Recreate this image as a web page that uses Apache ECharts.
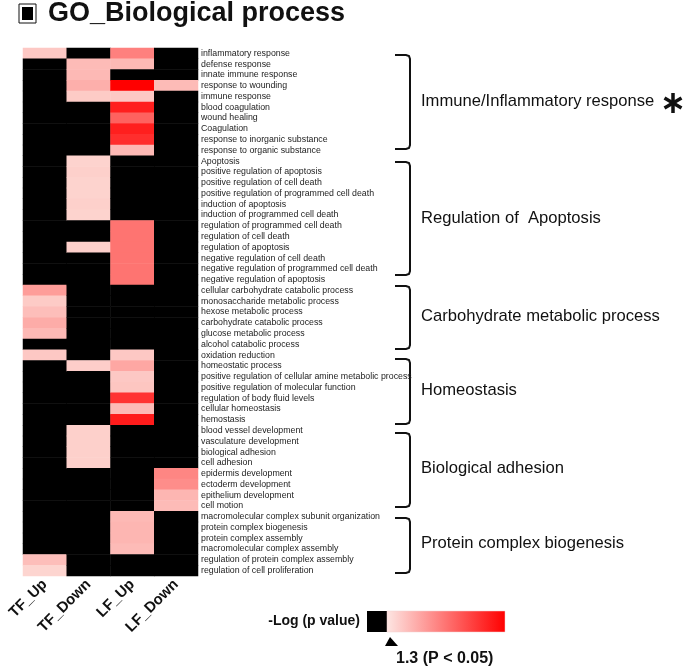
<!DOCTYPE html>
<html><head><meta charset="utf-8">
<script src="https://cdn.jsdelivr.net/npm/echarts@6/dist/echarts.min.js"></script>
<style>html,body{margin:0;padding:0;background:#fff}#c{width:685px;height:671px}</style>
</head><body><div id="c"></div>
<script>
const categories = ['TF_Up','TF_Down','LF_Up','LF_Down'];
const terms = [
'inflammatory response','defense response','innate immune response','response to wounding','immune response',
'blood coagulation','wound healing','Coagulation','response to inorganic substance','response to organic substance',
'Apoptosis','positive regulation of apoptosis','positive regulation of cell death','positive regulation of programmed cell death',
'induction of apoptosis','induction of programmed cell death','regulation of programmed cell death','regulation of cell death',
'regulation of apoptosis','negative regulation of cell death','negative regulation of programmed cell death','negative regulation of apoptosis',
'cellular carbohydrate catabolic process','monosaccharide metabolic process','hexose metabolic process','carbohydrate catabolic process',
'glucose metabolic process','alcohol catabolic process','oxidation reduction','homeostatic process',
'positive regulation of cellular amine metabolic process','positive regulation of molecular function','regulation of body fluid levels',
'cellular homeostasis','hemostasis','blood vessel development','vasculature development','biological adhesion','cell adhesion',
'epidermis development','ectoderm development','epithelium development','cell motion','macromolecular complex subunit organization',
'protein complex biogenesis','protein complex assembly','macromolecular complex assembly','regulation of protein complex assembly',
'regulation of cell proliferation'
];
// -log10(p) values; 0 = not significant (black)
const tfUp = [2.2,0,0,0,0, 0,0,0,0,0, 0,0,0,0,0,0,0,0,0,0,0,0, 3.9,2.1,2.6,3.3,2.8,0, 2.2,0,0,0,0,0,0, 0,0,0,0,0,0,0,0, 0,0,0,0,2.6,1.7];
const tfDown = [0,2.7,2.8,3.2,2.1, 0,0,0,0,0, 1.8,1.9,1.8,1.8,1.9,1.8,0,0,1.9,0,0,0, 0,0,0,0,0,0, 0,2.0,0,0,0,0,0, 1.9,1.9,1.9,1.9,0,0,0,0, 0,0,0,0,0,0];
const lfUp = [5.0,2.8,0,10,2.2, 8.8,6.2,8.8,8.2,2.8, 0,0,0,0,0,0,5.5,5.5,5.5,5.5,5.5,5.5, 0,0,0,0,0,0, 2.2,3.5,2.2,2.3,8.0,2.7,8.9, 0,0,0,0,0,0,0,0, 2.8,2.9,2.9,2.7,0,0];
const lfDown = [0,0,0,2.7,0, 0,0,0,0,0, 0,0,0,0,0,0,0,0,0,0,0,0, 0,0,0,0,0,0, 0,0,0,0,0,0,0, 0,0,0,0,4.8,4.5,2.9,2.7, 0,0,0,0,0,0];
const groups = ['Immune/Inflammatory response','Regulation of  Apoptosis','Carbohydrate metabolic process','Homeostasis','Biological adhesion','Protein complex biogenesis'];
const legendTitle = '-Log (p value)';
const legendThreshold = '1.3 (P < 0.05)';

const cols = [tfUp, tfDown, lfUp, lfDown];
const data = [];
cols.forEach((arr, ci) => arr.forEach((v, ri) => data.push([ci, ri, v])));

// bracket geometry (annotation)
const brackets = [[55,149,103],[162,275,220],[286,349,318],[359,424,392],[433,507,470],[518,573,545]];
const graphics = [];
brackets.forEach((b, i) => {
  const [t, bt, ly] = b;
  graphics.push({type:'polyline', shape:{points:[[395,t],[406,t],[409,t+1],[410,t+4],[410,bt-4],[409,bt-1],[406,bt],[395,bt]]},
    style:{stroke:'#111', lineWidth:2, fill:null}});
  graphics.push({type:'text', left:421, top:ly-10, style:{text:groups[i], font:'16.6px "Liberation Sans", Arial, sans-serif', fill:'#111'}});
});
// asterisk
const ax = 673, ay = 103;
[[0,-10,0,10],[-8.5,-5,8.5,5],[-8.5,5,8.5,-5]].forEach(s => graphics.push({type:'line', shape:{x1:ax+s[0],y1:ay+s[1],x2:ax+s[2],y2:ay+s[3]}, style:{stroke:'#111', lineWidth:3.5}}));
// title
graphics.push({type:'rect', shape:{x:19,y:4,width:17,height:19}, style:{fill:'#fff', stroke:'#111', lineWidth:1}});
graphics.push({type:'rect', shape:{x:22,y:7,width:11,height:13}, style:{fill:'#000'}});
graphics.push({type:'text', left:48, top:0, style:{text:'GO_Biological process', font:'bold 27px "Liberation Sans", Arial, sans-serif', fill:'#111'}});
// legend
graphics.push({type:'text', right:685-360, top:614, style:{text:legendTitle, font:'bold 14px "Liberation Sans", Arial, sans-serif', fill:'#111', textAlign:'right'}});
graphics.push({type:'rect', shape:{x:367,y:611,width:20,height:21}, style:{fill:'#000'}});
graphics.push({type:'rect', shape:{x:387,y:611,width:118,height:21}, style:{fill:new echarts.graphic.LinearGradient(0,0,1,0,[{offset:0,color:'#fde6e3'},{offset:1,color:'#ff0000'}]), stroke:'#f3d0d0', lineWidth:0.5}});
graphics.push({type:'polygon', shape:{points:[[390,637],[385,646],[398,646]]}, style:{fill:'#000'}});
graphics.push({type:'text', left:396, top:651, style:{text:legendThreshold, font:'bold 16px "Liberation Sans", Arial, sans-serif', fill:'#111'}});

const chart = echarts.init(document.getElementById('c'), null, {renderer:'canvas'});
chart.setOption({
  animation:false,
  backgroundColor:'#fff',
  grid:{left:23, right:487, top:48, bottom:95, containLabel:false},
  xAxis:{type:'category', data:categories, position:'bottom', axisLine:{show:false}, axisTick:{show:false}, splitLine:{show:false},
    axisLabel:{rotate:45, margin:6, fontSize:15, fontWeight:'bold', color:'#111', fontFamily:'"Liberation Sans", Arial, sans-serif', interval:0}},
  yAxis:{type:'category', data:terms, inverse:true, position:'right', axisLine:{show:false}, axisTick:{show:false}, splitLine:{show:false},
    axisLabel:{margin:3, fontSize:8.8, color:'#222', fontFamily:'"Liberation Sans", Arial, sans-serif', interval:0}},
  visualMap:{type:'continuous', show:false, dimension:2, seriesIndex:0, min:1.2, max:10, range:[1.3,10],
    inRange:{color:['#fde2dd','#ff0000']}, outOfRange:{color:'#000'}},
  series:[{type:'heatmap', data:data, itemStyle:{borderWidth:0}, emphasis:{disabled:true}}],
  graphic:graphics
});
</script></body></html>
